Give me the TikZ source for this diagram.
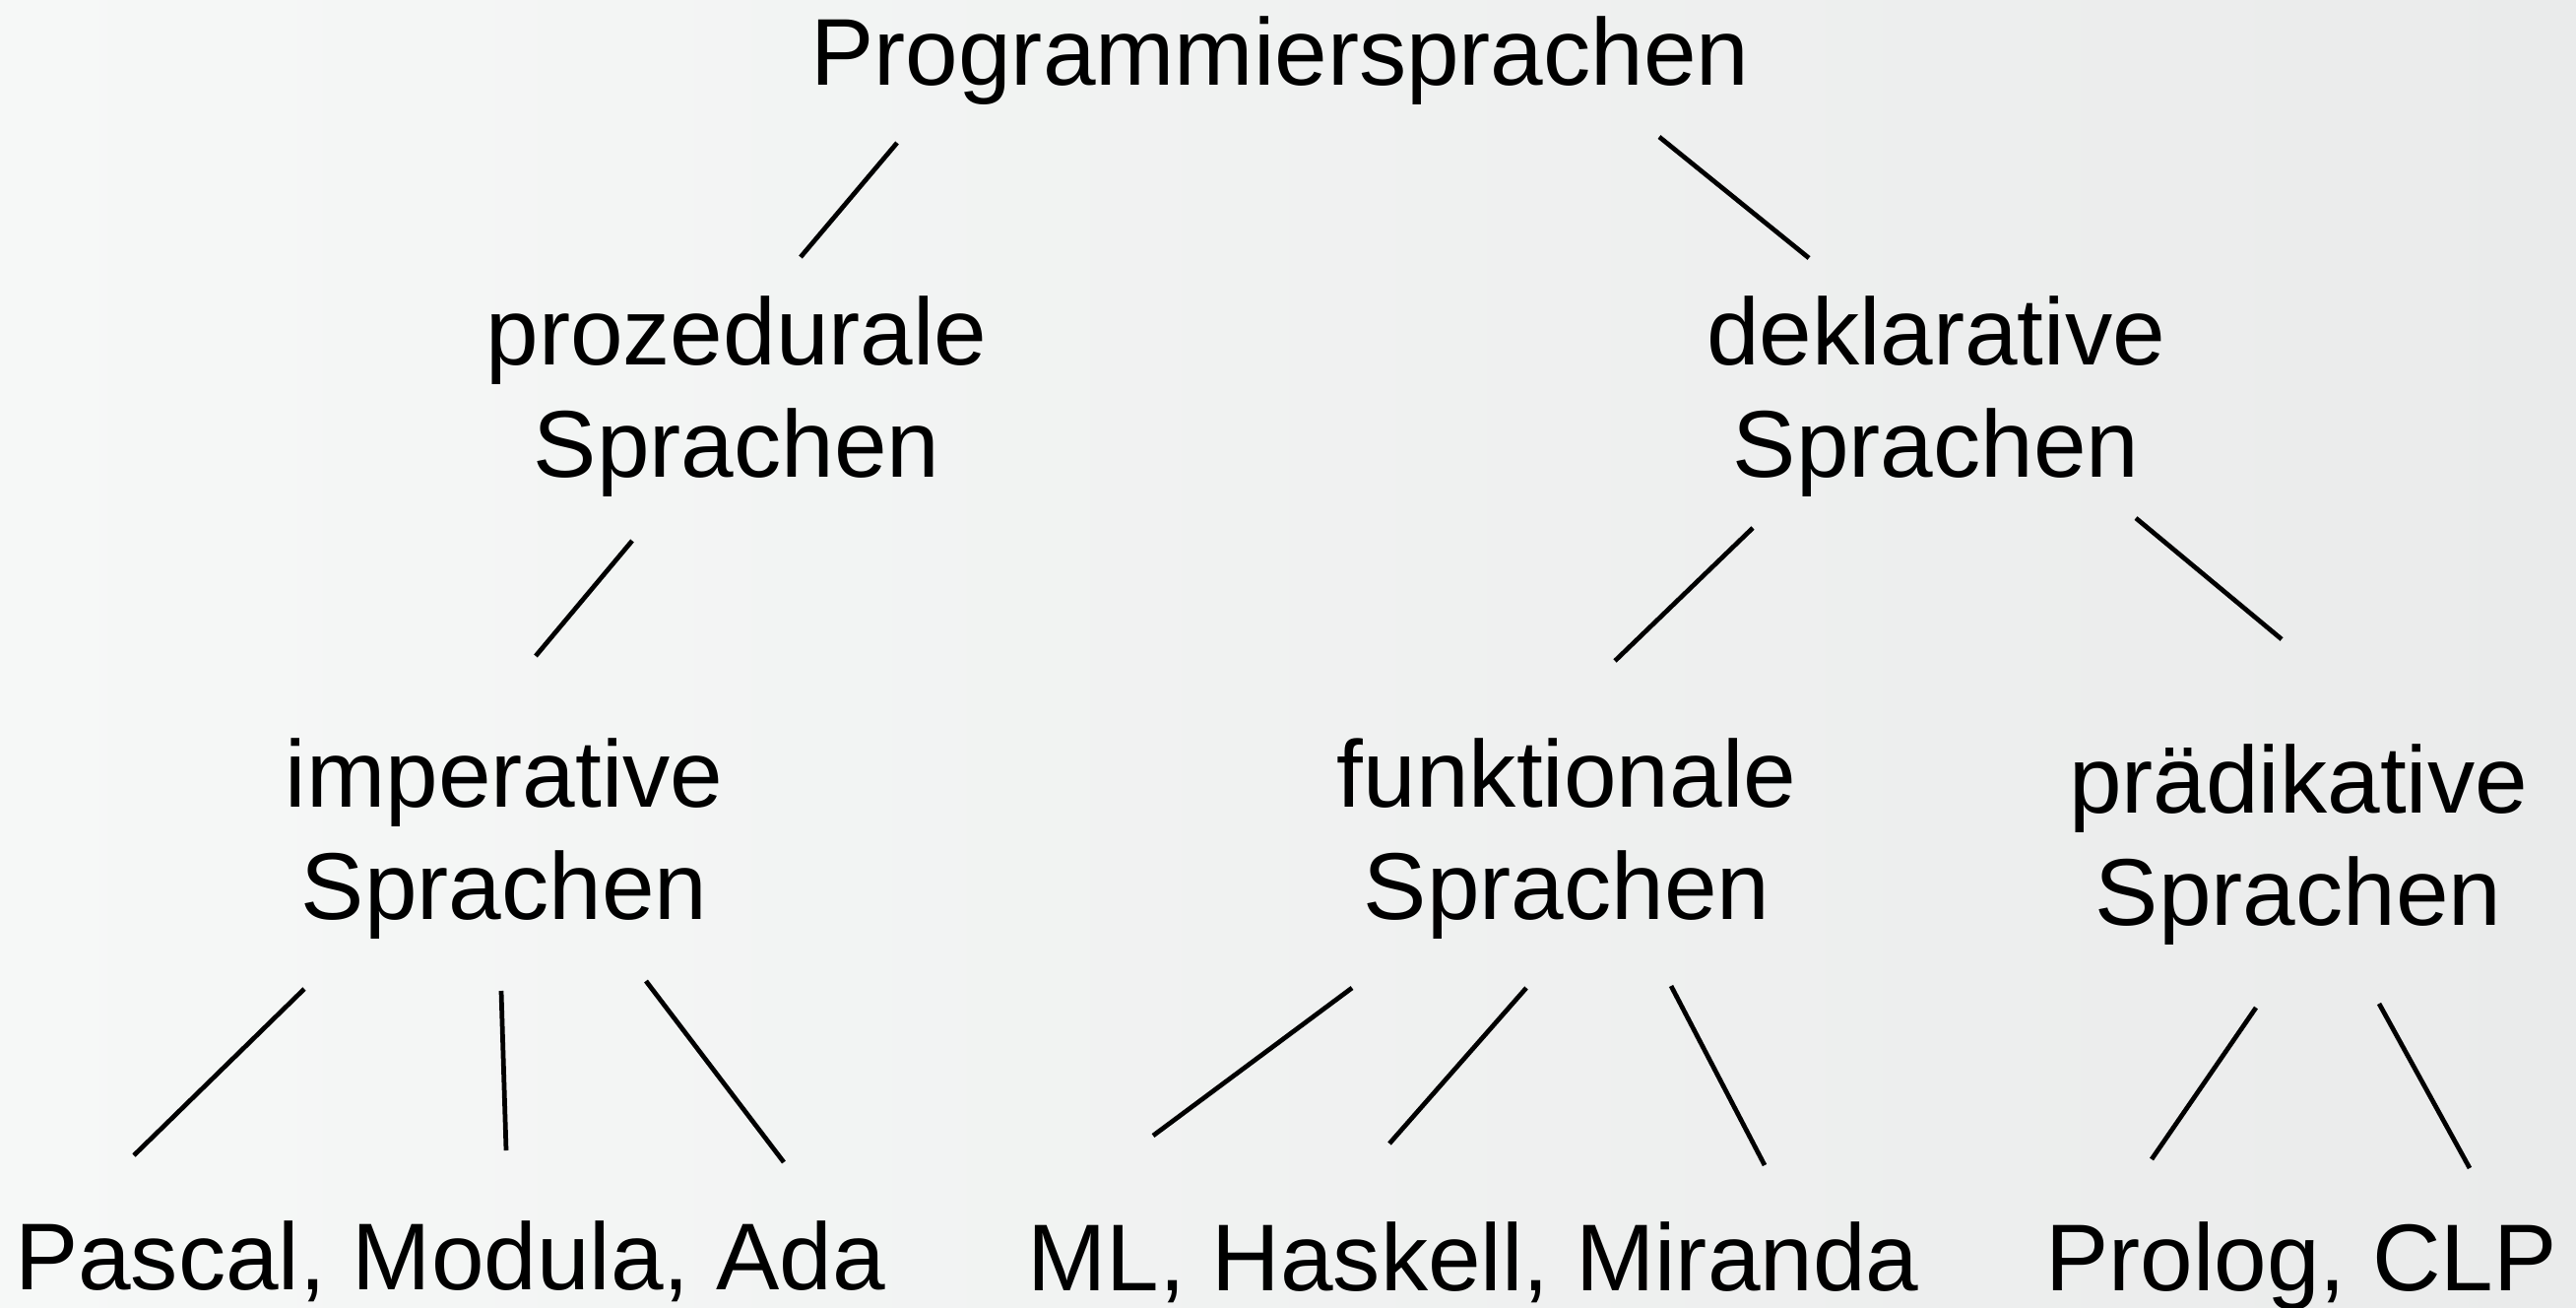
\documentclass[tikz,border=0pt]{standalone}
\usepackage{fontspec}
\setmainfont{Liberation Sans}
\definecolor{bgleft}{HTML}{F6F8F7}
\definecolor{bgmid}{HTML}{F4F6F5}
\definecolor{bgright}{HTML}{EAEBEB}
\begin{document}
\begin{tikzpicture}[x=0.01cm, y=-0.01cm,
  label/.style={anchor=base, align=center, inner sep=0pt,
    font=\fontsize{27.4pt}{32.4pt}\selectfont},
  edge/.style={draw=black, line width=1.35pt}]
  % background
  \shade[left color=bgleft, middle color=bgmid, right color=bgright]
    (0,0) rectangle (2616,1327);
  \useasboundingbox (0,0) rectangle (2616,1327);

  % labels (anchored at the baseline of their last line)
  \node[label] (root)   at (1300,87)   {Programmiersprachen};
  \node[label] (proz)   at (748,484)   {prozedurale\\Sprachen};
  \node[label] (dekl)   at (1966,484)  {deklarative\\Sprachen};
  \node[label] (imp)    at (512,933)   {imperative\\Sprachen};
  \node[label] (fun)    at (1591,933)  {funktionale\\Sprachen};
  \node[label] (praed)  at (2334,939)  {prädikative\\Sprachen};
  \node[label] (pascal) at (457,1309)  {Pascal, Modula, Ada};
  \node[label] (ml)     at (1496,1310) {ML, Haskell, Miranda};
  \node[label] (prolog) at (2337,1310) {Prolog, CLP};

  % connector end points
  \coordinate (root-l)  at (911,145);   \coordinate (proz-t)  at (813,261);
  \coordinate (root-r)  at (1685,139);  \coordinate (dekl-t)  at (1837,262);
  \coordinate (proz-b)  at (642,549);   \coordinate (imp-t)   at (544,666);
  \coordinate (dekl-bl) at (1780,536);  \coordinate (fun-t)   at (1640,671);
  \coordinate (dekl-br) at (2169,526);  \coordinate (praed-t) at (2317,649);
  \coordinate (imp-bl)  at (309,1004);  \coordinate (pascal-l) at (136,1173);
  \coordinate (imp-bm)  at (509,1006);  \coordinate (pascal-m) at (514,1168);
  \coordinate (imp-br)  at (656,996);   \coordinate (pascal-r) at (796,1180);
  \coordinate (fun-bl)  at (1373,1003); \coordinate (ml-l)    at (1171,1153);
  \coordinate (fun-bm)  at (1550,1003); \coordinate (ml-m)    at (1411,1161);
  \coordinate (fun-br)  at (1697,1001); \coordinate (ml-r)    at (1792,1183);
  \coordinate (praed-bl) at (2291,1023); \coordinate (prolog-l) at (2185,1177);
  \coordinate (praed-br) at (2416,1019); \coordinate (prolog-r) at (2508,1186);

  % tree edges
  \draw[edge] (root-l) -- (proz-t);
  \draw[edge] (root-r) -- (dekl-t);
  \draw[edge] (proz-b) -- (imp-t);
  \draw[edge] (dekl-bl) -- (fun-t);
  \draw[edge] (dekl-br) -- (praed-t);
  \draw[edge] (imp-bl) -- (pascal-l);
  \draw[edge] (imp-bm) -- (pascal-m);
  \draw[edge] (imp-br) -- (pascal-r);
  \draw[edge] (fun-bl) -- (ml-l);
  \draw[edge] (fun-bm) -- (ml-m);
  \draw[edge] (fun-br) -- (ml-r);
  \draw[edge] (praed-bl) -- (prolog-l);
  \draw[edge] (praed-br) -- (prolog-r);
\end{tikzpicture}
\end{document}
